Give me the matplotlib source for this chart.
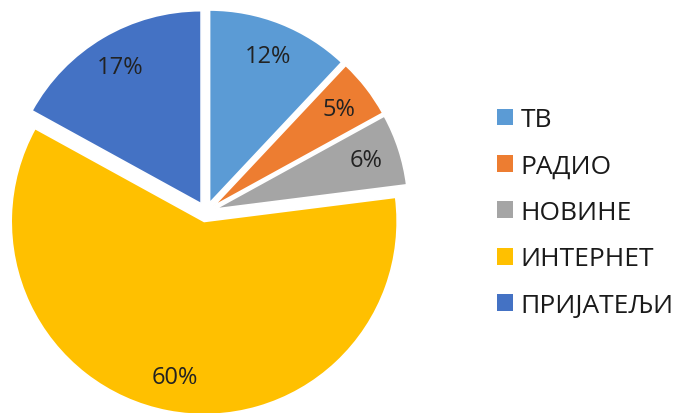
import matplotlib.pyplot as plt
from matplotlib.patches import Patch

labels = ['ТВ', 'РАДИО', 'НОВИНЕ', 'ИНТЕРНЕТ', 'ПРИЈАТЕЉИ']
values = [12, 5, 6, 60, 17]
colors = ['#5B9BD5', '#ED7D31', '#A5A5A5', '#FFC000', '#4472C4']

plt.rcParams['font.family'] = ['Open Sans', 'DejaVu Sans']

W, H = 697, 414
fig = plt.figure(figsize=(W / 100, H / 100), dpi=100)
ax = fig.add_axes([0, 0, 1, 1])

# pie centre and radius in pixels
cx, cy, r = 206, 213, 193

wedges, texts, autotexts = ax.pie(
    values, colors=colors, startangle=90, counterclock=False,
    explode=[0.05] * len(values), autopct='%1.0f%%', pctdistance=0.82,
    wedgeprops=dict(edgecolor='white', linewidth=1.2),
    textprops=dict(fontsize=17, color='#222222'))

ax.set_aspect('equal')
ax.set_xlim(-cx / r, (W - cx) / r)
ax.set_ylim(-(H - cy) / r, cy / r)
ax.axis('off')

handles = [Patch(facecolor=c, edgecolor='none') for c in colors]
ax.legend(handles, labels, loc='center left', bbox_to_anchor=(0.698, 0.484),
          bbox_transform=fig.transFigure, frameon=False, fontsize=19,
          handlelength=0.6, handleheight=0.6, handletextpad=0.3,
          labelspacing=0.81, labelcolor='#1a1a1a', borderaxespad=0)

fig.savefig('out.png', dpi=100)
